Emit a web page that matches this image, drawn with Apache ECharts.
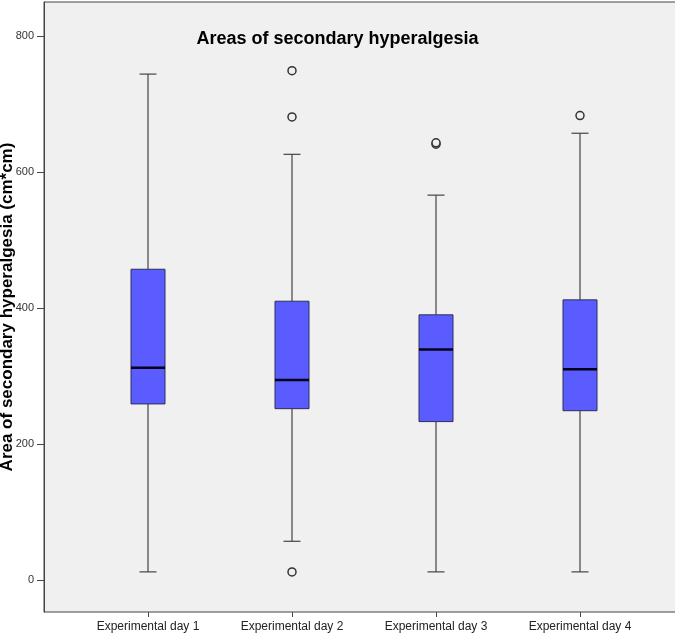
<!DOCTYPE html>
<html>
<head>
<meta charset="utf-8">
<script src="https://cdn.jsdelivr.net/npm/echarts@6/dist/echarts.min.js"></script>
<style>
  html, body { margin: 0; padding: 0; background: #fff; }
  #app { width: 675px; height: 634px; }
</style>
</head>
<body>
<div id="app"></div>
<script>
var categories = ['Experimental day 1', 'Experimental day 2', 'Experimental day 3', 'Experimental day 4'];
var lowerWhisker = [12, 57, 12, 12];
var q1 = [259, 252, 233, 249];
var median = [312, 294, 339, 310];
var q3 = [457, 410, 390, 412];
var upperWhisker = [744, 626, 566, 657];
// [category index, value]
var outliers = [[1, 749], [1, 681], [1, 12], [2, 641], [2, 643], [3, 683]];
var yTicks = [0, 200, 400, 600, 800];

var FONT = '"Liberation Sans", Arial, sans-serif';
var Y_MIN = -47, Y_MAX = 850;

var boxData = categories.map(function (c, i) {
    return [i, lowerWhisker[i], q1[i], median[i], q3[i], upperWhisker[i]];
});

function renderBox(params, api) {
    var i = api.value(0);
    var lo = api.coord([i, api.value(1)]);
    var a = api.coord([i, api.value(2)]);
    var m = api.coord([i, api.value(3)]);
    var b = api.coord([i, api.value(4)]);
    var hi = api.coord([i, api.value(5)]);
    var bw = 34, cw = 17;
    var x = lo[0];
    var lineStyle = { stroke: '#444', lineWidth: 1.2 };
    return {
        type: 'group',
        children: [
            { type: 'line', shape: { x1: x, y1: lo[1], x2: x, y2: a[1] }, style: lineStyle },
            { type: 'line', shape: { x1: x, y1: b[1], x2: x, y2: hi[1] }, style: lineStyle },
            { type: 'line', shape: { x1: x - cw / 2, y1: lo[1], x2: x + cw / 2, y2: lo[1] }, style: lineStyle },
            { type: 'line', shape: { x1: x - cw / 2, y1: hi[1], x2: x + cw / 2, y2: hi[1] }, style: lineStyle },
            { type: 'rect', shape: { x: x - bw / 2, y: b[1], width: bw, height: a[1] - b[1] },
              style: { fill: '#5b5cff', stroke: '#2e2e55', lineWidth: 1 } },
            { type: 'line', shape: { x1: x - bw / 2, y1: m[1], x2: x + bw / 2, y2: m[1] },
              style: { stroke: '#000018', lineWidth: 2.5 } }
        ]
    };
}

var chart = echarts.init(document.getElementById('app'), null, { renderer: 'canvas' });

var option = {
    animation: false,
    backgroundColor: '#fff',
    title: {
        text: 'Areas of secondary hyperalgesia',
        left: 'center',
        top: 25,
        textStyle: { fontFamily: FONT, fontSize: 18, fontWeight: 'bold', color: '#000' }
    },
    grid: [
        { left: 44, right: -8, top: 2, bottom: 22, outerBoundsMode: 'none', containLabel: false,
          show: true, backgroundColor: '#f0f0f0', borderColor: '#444', borderWidth: 1 },
        { left: 76, right: 23, top: 2, bottom: 22, outerBoundsMode: 'none', containLabel: false }
    ],
    xAxis: [
        { gridIndex: 0, type: 'value', show: false, min: 0, max: 1 },
        {
            gridIndex: 1, type: 'category', data: categories, position: 'bottom',
            axisLine: { show: false, onZero: false },
            axisTick: { show: true, alignWithLabel: true, length: 5, lineStyle: { color: '#444' } },
            axisLabel: { fontFamily: FONT, fontSize: 12, color: '#222', margin: 9 }
        }
    ],
    yAxis: [
        {
            gridIndex: 0, type: 'value', min: Y_MIN, max: Y_MAX,
            name: 'Area of secondary hyperalgesia (cm*cm)',
            nameLocation: 'middle', nameGap: 28, nameMoveOverlap: false,
            nameTextStyle: { fontFamily: FONT, fontSize: 17, fontWeight: 'bold', color: '#000' },
            axisLine: { show: true, onZero: false, lineStyle: { color: '#444' } },
            axisTick: { show: true, length: 7, customValues: yTicks, lineStyle: { color: '#444' } },
            axisLabel: { fontFamily: FONT, fontSize: 11, color: '#333', margin: 10, customValues: yTicks },
            splitLine: { show: false }
        },
        { gridIndex: 1, type: 'value', min: Y_MIN, max: Y_MAX, show: false }
    ],
    series: [
        {
            type: 'custom',
            xAxisIndex: 1, yAxisIndex: 1,
            data: boxData,
            encode: { x: 0, y: [1, 2, 3, 4, 5] },
            renderItem: renderBox,
            silent: true
        },
        {
            type: 'scatter',
            xAxisIndex: 1, yAxisIndex: 1,
            data: outliers,
            symbol: 'circle',
            symbolSize: 8,
            itemStyle: { color: '#f0f0f0', borderColor: '#333', borderWidth: 1.5, opacity: 1 },
            silent: true
        }
    ]
};

chart.setOption(option);
addEventListener('resize', function () { chart.resize(); });
</script>
</body>
</html>
